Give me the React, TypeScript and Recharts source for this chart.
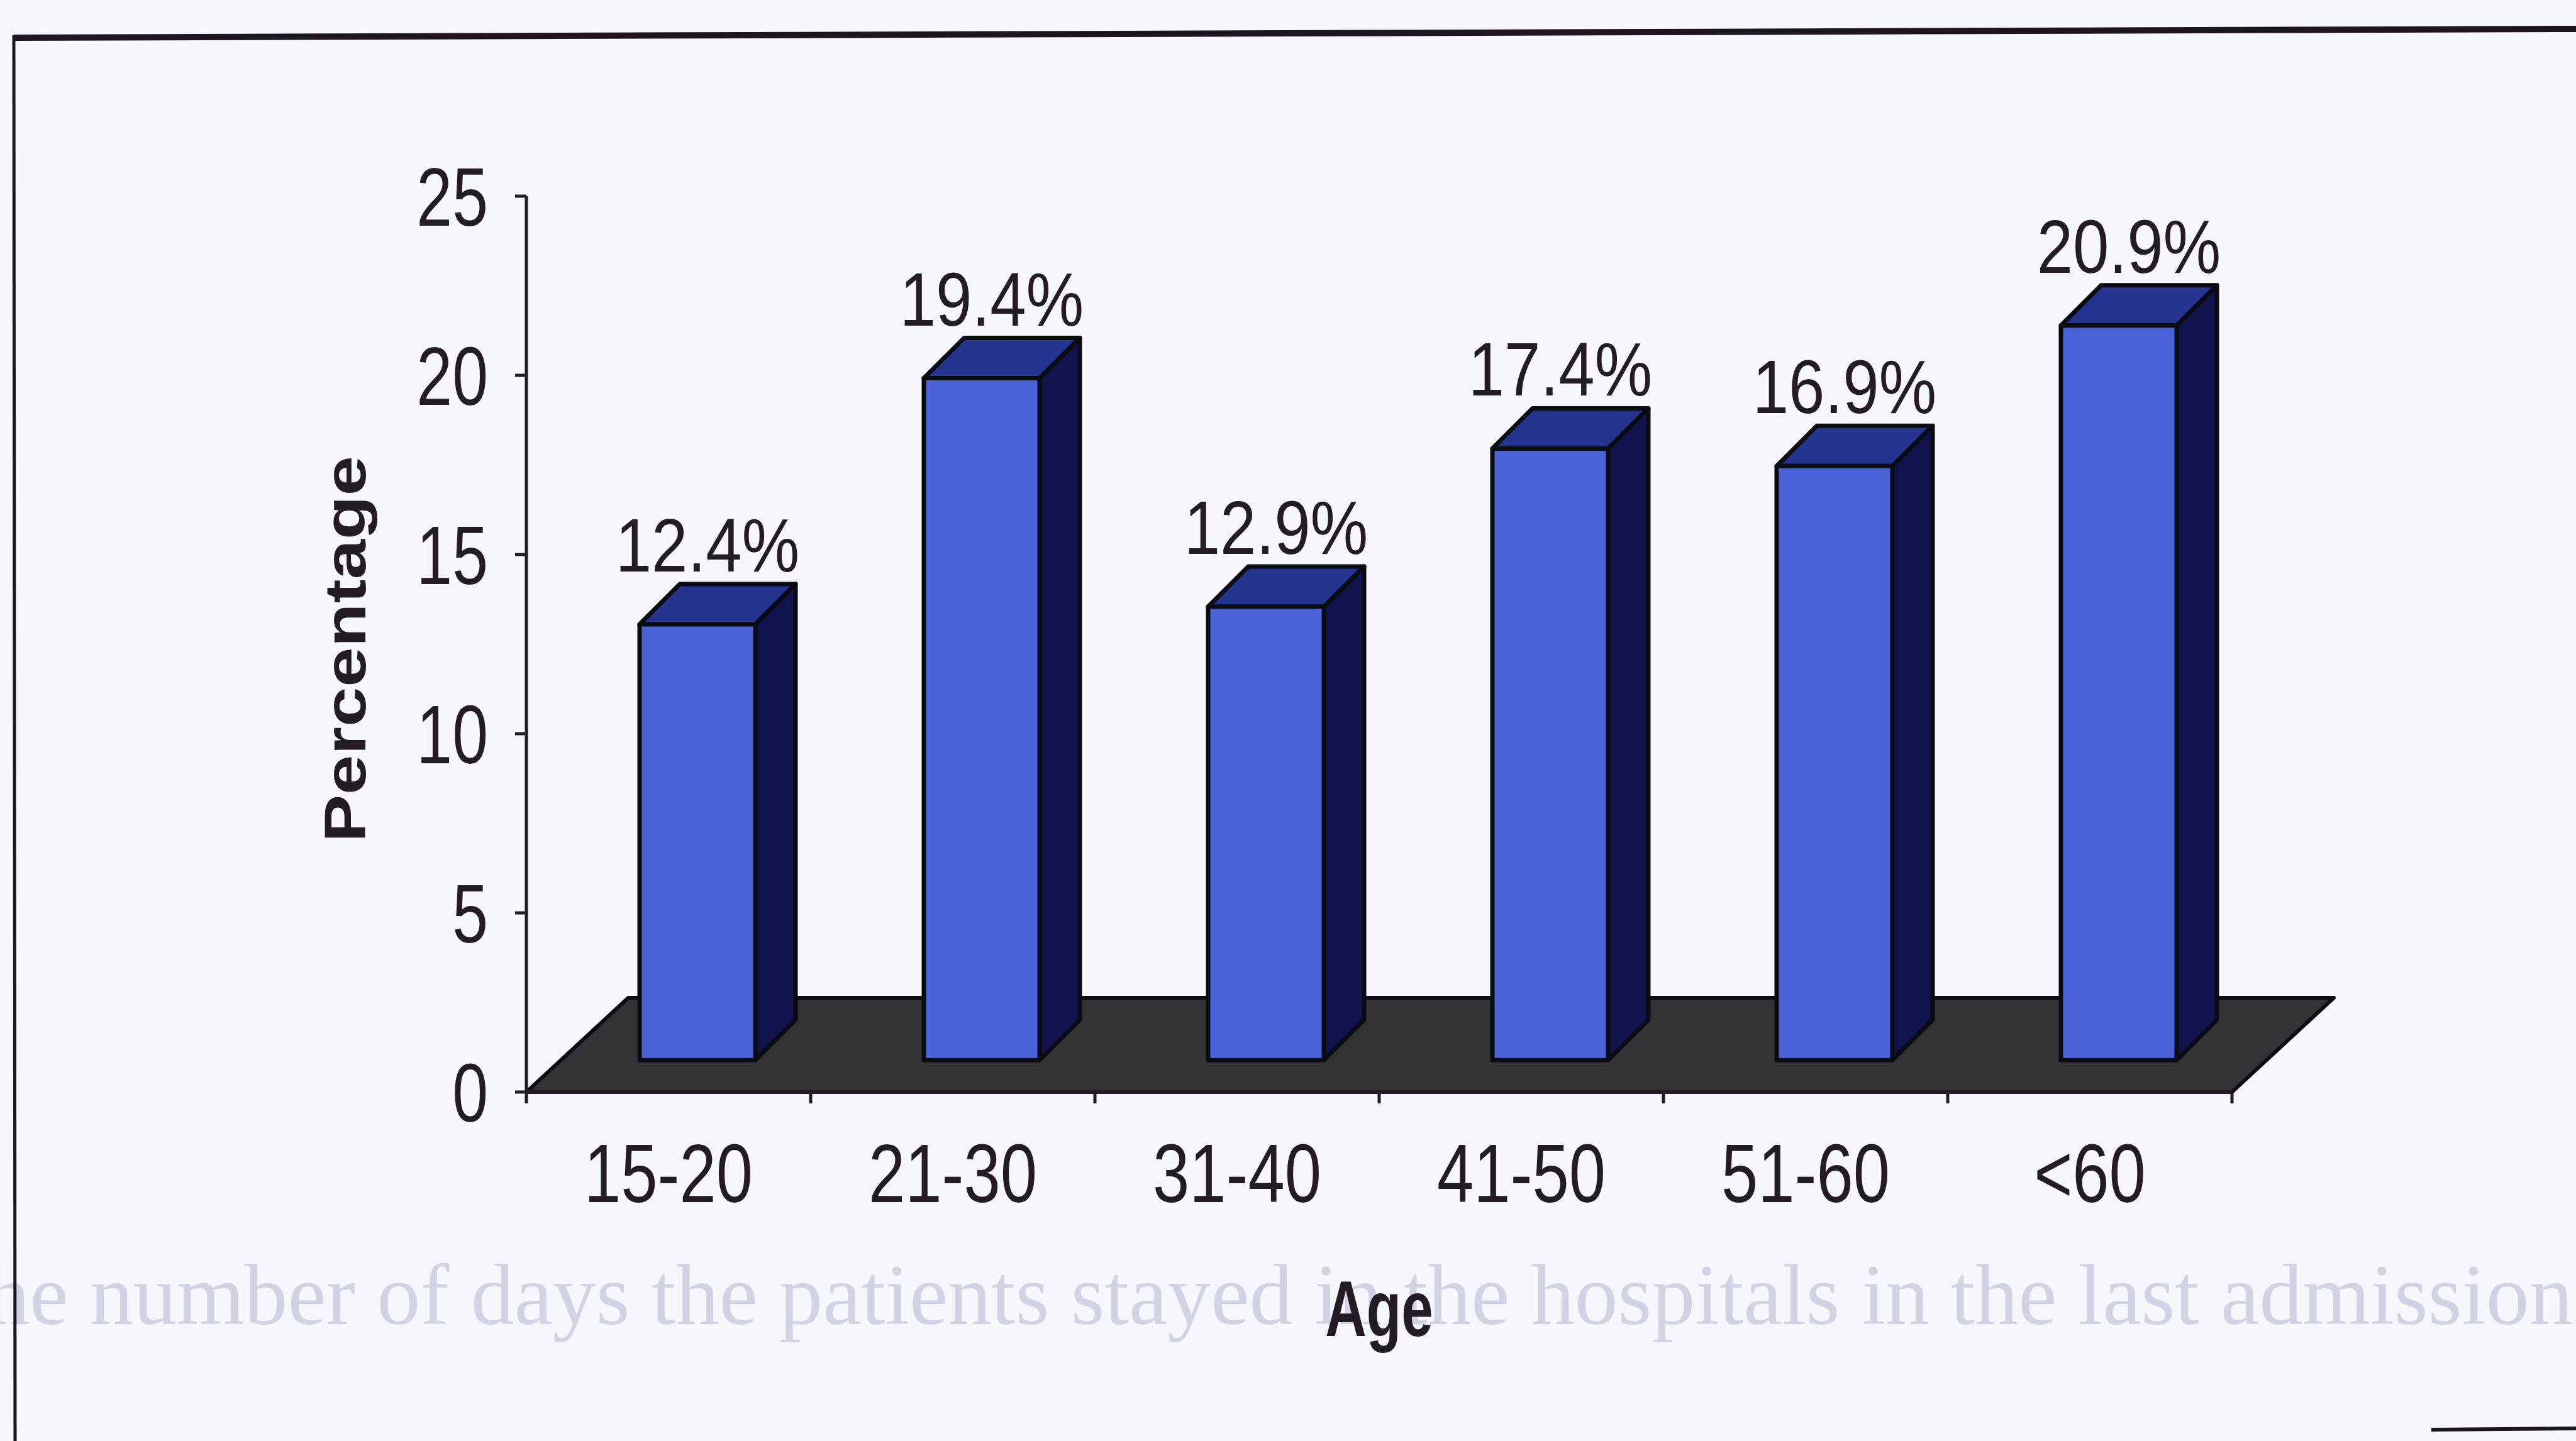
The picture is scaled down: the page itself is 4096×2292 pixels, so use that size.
import React from 'react';
import { Bar, BarChart, LabelList, ReferenceArea, XAxis, YAxis } from 'recharts';

const ageGroups = ['15-20', '21-30', '31-40', '41-50', '51-60', '<60'];
const percentages = [12.4, 19.4, 12.9, 17.4, 16.9, 20.9];
const percentTicks = [0, 5, 10, 15, 20, 25];

const data = ageGroups.map((age, i) => ({ age, pct: percentages[i] }));

const CHART_W = 4096;
const CHART_H = 2292;
const Y_AXIS_W = 300;
const X_AXIS_H = 300;
const MARGIN = { top: 312, right: 547, bottom: 255, left: 537 };
const PLOT_W = CHART_W - MARGIN.left - MARGIN.right - Y_AXIS_W;
const HALF_BAND = PLOT_W / ageGroups.length / 2;

// columns stand a third of the way back on the floor, so they use their own
// (hidden) value axis whose zero sits above the front edge
const COLUMN_DOMAIN: [number, number] = [-0.91, 24.58];
const COLUMN_SHIFT_X = 46;
const COLUMN_DX = 64;
const COLUMN_DY = 64;
const FLOOR_DX = 162;
const FLOOR_DY = 150;

const FONT = "'Liberation Sans', Arial, sans-serif";
const INK = '#231c24';
const FRONT = '#4b63d8';
const TOP = '#25358f';
const SIDE = '#10134c';
const EDGE = '#0b0b14';

function Column3D(props: any) {
  const { x, y, width, height } = props;
  if (width == null || height == null) return null;
  const fx = x + COLUMN_SHIFT_X;
  const bx = fx + width;
  const by = y + height;
  const common = { stroke: EDGE, strokeWidth: 7, strokeLinejoin: 'round' as const };
  return (
    <g>
      <polygon
        points={`${fx},${y} ${fx + COLUMN_DX},${y - COLUMN_DY} ${bx + COLUMN_DX},${y - COLUMN_DY} ${bx},${y}`}
        fill={TOP}
        {...common}
      />
      <polygon
        points={`${bx},${y} ${bx + COLUMN_DX},${y - COLUMN_DY} ${bx + COLUMN_DX},${by - COLUMN_DY} ${bx},${by}`}
        fill={SIDE}
        {...common}
      />
      <rect x={fx} y={y} width={width} height={height} fill={FRONT} {...common} />
    </g>
  );
}

function Floor(props: any) {
  const { x, y, width, height } = props;
  const fy = y + height;
  return (
    <polygon
      points={`${x},${fy} ${x + width},${fy} ${x + width + FLOOR_DX},${fy - FLOOR_DY} ${x + FLOOR_DX},${fy - FLOOR_DY}`}
      fill="#333234"
      stroke={EDGE}
      strokeWidth={6}
      strokeLinejoin="round"
    />
  );
}

function ValueLabel(props: any) {
  const { x, y, width, value } = props;
  const cx = x + COLUMN_SHIFT_X + width / 2 + 16;
  return (
    <g transform={`translate(${cx},${y - 84}) scale(0.86,1)`}>
      <text textAnchor="middle" fontFamily={FONT} fontSize={120} fill={INK}>
        {`${value}%`}
      </text>
    </g>
  );
}

function AgeTick(props: any) {
  const { x, y, payload, index } = props;
  const last = index === ageGroups.length - 1;
  return (
    <g>
      <line x1={x - HALF_BAND} y1={y} x2={x - HALF_BAND} y2={y + 18} stroke={INK} strokeWidth={5} />
      {last && <line x1={x + HALF_BAND} y1={y} x2={x + HALF_BAND} y2={y + 18} stroke={INK} strokeWidth={5} />}
      <g transform={`translate(${x},${y + 175}) scale(0.8,1)`}>
        <text textAnchor="middle" fontFamily={FONT} fontSize={131} fill={INK}>
          {payload.value}
        </text>
      </g>
    </g>
  );
}

function PercentTick(props: any) {
  const { x, y, payload } = props;
  return (
    <g transform={`translate(${x},${y + 47}) scale(0.78,1)`}>
      <text textAnchor="end" fontFamily={FONT} fontSize={131} fill={INK}>
        {payload.value}
      </text>
    </g>
  );
}

function PercentTitle(props: any) {
  const vb = props.viewBox;
  const cx = vb.x + vb.width - 289;
  const cy = vb.y + vb.height / 2 + 8;
  return (
    <g transform={`translate(${cx},${cy}) rotate(-90) scale(1.24,1)`}>
      <text textAnchor="middle" y={33} fontFamily={FONT} fontWeight="bold" fontSize={92} fill={INK}>
        Percentage
      </text>
    </g>
  );
}

function AgeTitle(props: any) {
  const vb = props.viewBox;
  return (
    <g transform={`translate(${vb.x + vb.width / 2},${vb.y + 388}) scale(0.72,1)`}>
      <text textAnchor="middle" fontFamily={FONT} fontWeight="bold" fontSize={126} fill={INK}>
        Age
      </text>
    </g>
  );
}

export default function App() {
  return (
    <div
      style={{
        position: 'absolute',
        left: 0,
        top: 0,
        width: CHART_W,
        height: CHART_H,
        background: '#f5f7fc',
        overflow: 'hidden',
      }}
    >
      <div
        style={{
          position: 'absolute',
          left: -60,
          top: 1980,
          whiteSpace: 'nowrap',
          fontFamily: "'Liberation Serif', serif",
          fontSize: 138,
          color: '#cfd3e3',
        }}
      >
        the number of days the patients stayed in the hospitals in the last admission
      </div>
      <svg width={CHART_W} height={CHART_H} style={{ position: 'absolute', left: 0, top: 0 }}>
        <line x1={22} y1={60} x2={CHART_W} y2={46} stroke="#1d1620" strokeWidth={10} />
        <line x1={22} y1={56} x2={24} y2={CHART_H} stroke="#1d1620" strokeWidth={5} />
        <line x1={3866} y1={2274} x2={CHART_W} y2={2272} stroke="#1d1620" strokeWidth={6} />
      </svg>
      <div style={{ position: 'absolute', left: 0, top: 0 }}>
        <BarChart width={CHART_W} height={CHART_H} data={data} margin={MARGIN} barSize={184}>
          <XAxis
            dataKey="age"
            height={X_AXIS_H}
            axisLine={{ stroke: INK, strokeWidth: 6 }}
            tickLine={false}
            tickSize={0}
            tickMargin={0}
            tick={<AgeTick />}
            interval={0}
            label={<AgeTitle />}
          />
          <YAxis
            yAxisId="pct"
            type="number"
            domain={[0, 25]}
            allowDataOverflow
            ticks={percentTicks}
            width={Y_AXIS_W}
            axisLine={{ stroke: INK, strokeWidth: 5 }}
            tickLine={{ stroke: INK, strokeWidth: 5 }}
            tickSize={18}
            tickMargin={43}
            tick={<PercentTick />}
            label={<PercentTitle />}
          />
          <YAxis yAxisId="cols" type="number" domain={COLUMN_DOMAIN} allowDataOverflow hide width={0} />
          <ReferenceArea yAxisId="pct" shape={<Floor />} ifOverflow="visible" />
          <Bar yAxisId="cols" dataKey="pct" shape={<Column3D />} isAnimationActive={false}>
            <LabelList dataKey="pct" content={<ValueLabel />} />
          </Bar>
        </BarChart>
      </div>
    </div>
  );
}
